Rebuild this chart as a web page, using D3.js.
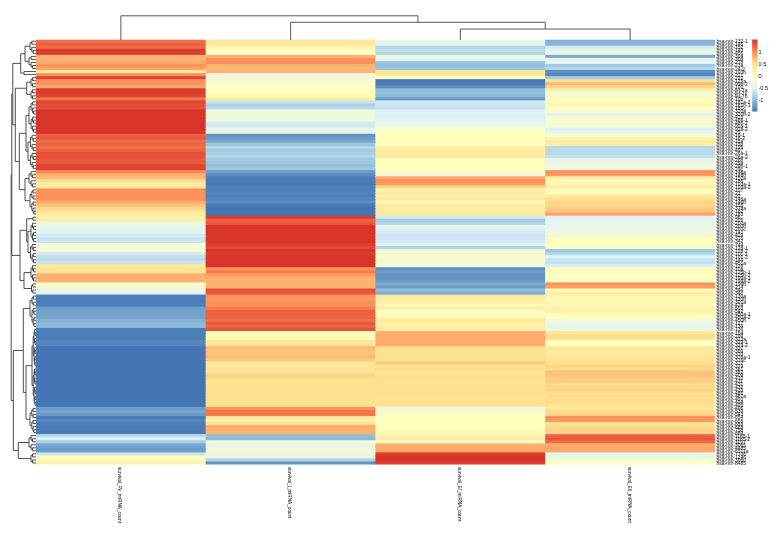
<!DOCTYPE html>
<html><head><meta charset="utf-8">
<style>html,body{margin:0;padding:0;background:#fff}svg{display:block;filter:blur(0.4px)}text{font-family:"Liberation Sans",Arial,sans-serif}</style>
<script src="https://cdn.jsdelivr.net/npm/d3@7"></script></head>
<body><svg id="c" width="780" height="538"></svg>
<script>
const columnLabels = ["survival_FV_miRNA_count","survival_I_miRNA_count","survival_EI_miRNA_count","survival_EII_miRNA_count"];
const seriesFV = [1.2,1.25,1.2,1.45,1.45,.8,.8,.85,1.0,.9,
.35,1.0,1.4,1.0,1.0,.85,1.45,1.45,1.4,1.15,
1.4,1.35,1.35,1.5,1.5,1.5,1.5,1.5,1.5,1.5,
1.5,1.25,1.3,1.2,1.25,1.2,1.25,1.35,1.35,1.3,
1.3,1.42,1.42,1.05,.8,.75,.5,.35,.35,1.0,
1.0,1.0,1.0,.85,.7,.6,.45,.35,.25,.3,
-.3,-.35,-.4,-.4,-.55,-.6,-.6,-.15,-.15,-.2,
-.55,-.65,-.7,-.6,.4,.45,.45,.8,.8,.8,
-.1,-.1,-.3,-.4,-1.4,-1.4,-1.4,-1.38,-1.2,-1.15,
-1.15,-1.15,-1.05,-1.0,-1.0,-1.4,-1.4,-1.4,-1.4,-1.35,
-1.35,-1.46,-1.46,-1.46,-1.46,-1.46,-1.46,-1.46,-1.46,-1.46,
-1.46,-1.46,-1.46,-1.46,-1.46,-1.46,-1.46,-1.46,-1.46,-1.46,
-1.46,-1.2,-1.15,-1.2,-1.4,-1.35,-1.4,-1.42,-1.42,-1.42,
-.7,-.5,-.8,-1.1,-1.2,-1.2,-.6,.05,.15,.2];
const seriesI = [.4,.4,.2,0,0,.8,1.0,1.0,.8,.75,
.8,-.2,-.2,-.2,0,0,.05,.05,.1,.3,
-.6,-.8,-.7,-.25,-.25,-.25,-.25,-.55,-.55,-.35,
-.3,-1.25,-1.2,-1.1,-.9,-.75,-.85,-.8,-.75,-.85,
-.9,-.95,-.9,-1.2,-1.3,-1.4,-1.4,-1.42,-1.38,-1.38,
-1.35,-1.4,-1.35,-1.3,-1.42,-1.46,-1.46,-1.46,1.45,1.25,
1.3,1.5,1.5,1.5,1.5,1.5,1.5,1.45,1.4,1.5,
1.45,1.5,1.5,1.5,1.5,1.0,1.1,.95,.8,.8,
.8,.8,1.35,1.3,1.0,.95,1.0,1.0,1.1,1.25,
1.25,1.25,1.2,1.3,1.25,1.35,.1,.1,.15,.4,
.45,.75,.7,.7,.75,.65,.45,.4,.45,.4,
.6,.55,.5,.5,.5,.5,.5,.5,.5,.5,
.5,1.0,1.15,1.15,.4,.25,.5,.85,.8,.8,
-.95,-1.0,-.1,-.45,-.2,-.2,-.25,-.25,-.8,-1.25];
const seriesEI = [-.3,-.45,-.75,-.65,-.75,-.3,-.4,-.9,-.95,-.9,
.45,.4,.05,-1.45,-1.4,-1.3,-.95,-.95,-1.0,-1.2,
-.55,-.6,-.65,-.5,-.4,-.5,-.45,-.35,-.3,-.05,
0,.05,.05,.1,0,.3,.35,.35,.4,.05,
0,.05,.05,-.1,-.15,.85,1.0,.95,.6,.25,
.35,.25,.4,.1,.35,.3,.35,.35,-.55,-.85,
-.75,-.3,-.5,-.55,-.6,-.6,-.55,-.5,-.75,-.2,
-.2,0,-.15,-.15,-.15,-1.3,-1.2,-1.25,-1.25,-1.2,
-1.1,-1.2,-.95,-1.1,.4,.3,.25,.15,.3,0,
.05,.15,.35,.3,.3,.3,.8,.85,.85,.85,
.85,.5,.5,.5,.5,.5,.65,.5,.55,.5,
.5,.52,.5,.48,.5,.5,.52,.5,.48,.5,
.5,-.15,-.15,.1,.05,.05,0,.05,.1,.15,
.2,.3,.05,.8,.85,.85,1.45,1.5,1.5,1.45];
const seriesEII = [-1.05,-1.0,-.55,-.35,-.3,-1.1,-.35,-.4,-.85,-.75,
-1.3,-1.35,-.85,.5,.75,.6,.3,-.1,-.15,.1,
.1,.15,0,-.1,-.4,-.15,-.1,-.15,-.1,-.5,
-.35,-.1,.2,.3,.3,-.7,-.7,-.7,-.65,-.3,
-.3,-.25,-.25,1.0,.95,.3,.1,.15,.3,.1,
.05,.4,.5,.6,.55,.65,.7,.9,-.45,-.4,
-.35,-.35,-.3,-.25,-.2,0,.05,0,-.1,-.9,
-.75,-.45,-.6,-.65,-.5,.1,.1,0,0,.05,
1.0,.9,.1,.3,.2,.1,.15,.15,.25,.2,
.1,.05,-.2,-.3,-.35,-.25,.4,.55,.5,0,
.05,.4,.35,.4,.45,.45,.5,.6,.55,.7,
.7,.65,.65,.55,.6,.6,.5,.55,.5,.55,
.5,.4,.55,.6,1.0,.95,.5,.55,.6,.6,
1.25,1.3,1.2,.85,.85,.85,-.4,-.35,-.1,0];
const rowLabels = ["132-1","145","152","143","455","30a","30d","27b","23a","24-2",
"193b","221","222","125a","99b-2","100","let-7a","let-7c","let-7b","10b",
"181a-2","181b-1","181c","320a","320b-2","423","486-1","486-2","92a-1","92a-2",
"25","16-1","16-2","15a","15b","195","497","26a-1","26a-2","26b",
"29a","29b-1","29c","148a","148b","152a","186","103a-1","103a-2","107",
"21","22","146a","146b","155","378a","182","183","96","205",
"200a","200b","200c","141","429","375","342","744","128-1","128-2",
"101-1","101-2","144","451a","126","10a","125b-1","125b-2","199a-1","199a-2",
"199b","214","34a","34c","130a","130b","301a","424","503","542",
"450a-1","450a-2","450b","127","134","136","154","299","323a","329-1",
"329-2","337","369","370","376a-1","376c","377","379","381","382",
"409","410","411","431","432","433","485","487a","493","494",
"495","496","539","543","654","655","656","668","758","889",
"1185-1","1185-2","1197","3065","4485","6511a","7706","1246","3960","8485"].map(s => "hsa-mir-" + s);
const legendTicks = [1, 0.5, 0, -0.5, -1];
const legendRange = [-1.46, 1.52];
const colourStops = ["#4575B4","#91BFDB","#E0F3F8","#FFFFBF","#FEE090","#FC8D59","#D73027"];
// merge trees: [height, child, child]; [height, n] is a tight cluster of n rows
const columnTree = [28, [0,1], [20.5, [0,1], [12.7, [0,1], [0,1]]]];
const rowTree = [24.8,
  [24.2,
    [23.2,
      [15.3,
        [11, [6,5], [7,5]],
        [12, [1,1], [1,1]]],
      [20.7,
        [9.3, [5,4], [5,4]],
        [16.7,
          [10, [7,11], [8,12]],
          [11, [7,6], [6,9]]]]],
    [16,
      [9.3, [3,2], [8, [5,7], [5.5,7]]],
      [12, [5,6], [4.5,4]]]],
  [22.7,
    [12.7,
      [6, [4,4], [4,7]],
      [10, [4,26], [6,9]]],
    [17.7, [10, [7,6]], [10, [5,4]]]]];

const svg = d3.select("#c");
const matrix = [seriesFV, seriesI, seriesEI, seriesEII];
const rows = d3.range(rowLabels.length);
const x = d3.scaleBand().domain(d3.range(columnLabels.length)).range([36, 715]);
const y = d3.scaleBand().domain(rows).range([39.7, 464.5]);
const colour = d3.scaleLinear()
  .domain(colourStops.map((_, i) => legendRange[0] + i * (legendRange[1] - legendRange[0]) / (colourStops.length - 1)))
  .range(colourStops).clamp(true);

svg.append("g").selectAll("g").data(matrix).join("g").each(function (col, c) {
  d3.select(this).selectAll("rect").data(col).join("rect")
    .attr("x", x(c)).attr("width", x.bandwidth() + (c < 3 ? 0.5 : 0))
    .attr("y", (d, r) => y(r)).attr("height", (d, r) => y.bandwidth() + (r < rows.length - 1 ? 1.5 : 0))
    .attr("fill", d => colour(d));
});

// expand a tree spec into a d3.hierarchy
function expand(spec) {
  if (spec.length === 2 && typeof spec[1] === "number") {
    const [h, n] = spec;
    if (n === 1) return { h: 0 };
    const k = Math.floor(n / 2);
    const next = h * 0.7;
    return { h, children: [expand([next, k]), expand([next, n - k])] };
  }
  if (spec.length === 2) return expand(spec[1]);
  return { h: spec[0], children: [expand(spec[1]), expand(spec[2])] };
}
function placeAndDraw(spec, leafPos, heightPos, horizontal, stroke) {
  const root = d3.hierarchy(expand(spec));
  root.leaves().forEach((l, i) => l.p = leafPos(i));
  root.eachAfter(n => { if (n.children) n.p = (n.children[0].p + n.children[n.children.length - 1].p) / 2; });
  const pts = (a, h) => horizontal ? [a, heightPos(h)] : [heightPos(h), a];
  const line = d3.line();
  const paths = root.descendants().filter(n => n.children).map(n => {
    const [a, b] = n.children;
    return line([pts(a.p, a.data.h), pts(a.p, n.data.h), pts(b.p, n.data.h), pts(b.p, b.data.h)]);
  });
  svg.append("g").selectAll("path").data(paths).join("path")
    .attr("d", d => d).attr("fill", "none").attr("stroke", stroke).attr("stroke-width", 0.9);
}
const hTop = d3.scaleLinear().domain([0, 28]).range([40, 15.8]);
placeAndDraw(columnTree, i => x(i) + x.bandwidth() / 2, hTop, true, "#444");
const hLeft = d3.scaleLinear().domain([0, 24.8]).range([36, 11.2]);
placeAndDraw(rowTree, i => y(i) + y.bandwidth() / 2, hLeft, false, "#3a3a3a");

// row labels
svg.append("g").selectAll("text").data(rowLabels).join("text")
  .attr("x", 716.6).attr("y", (d, i) => y(i) + y.bandwidth() / 2)
  .attr("dominant-baseline", "central").attr("font-size", 5).attr("fill", "#111").text(d => d);
// column labels
svg.append("g").selectAll("text").data(columnLabels).join("text")
  .attr("transform", (d, i) => `translate(${x(i) + x.bandwidth() / 2 - 1},467) rotate(90)`)
  .attr("dominant-baseline", "central").attr("font-size", 4.7).attr("fill", "#000").text(d => d);
// legend
const lg = d3.scaleLinear().domain(legendRange).range([111, 39.5]);
const stripes = d3.range(100).map(i => legendRange[0] + (i + 0.5) * (legendRange[1] - legendRange[0]) / 100);
const stripeH = (lg.range()[0] - lg.range()[1]) / 100;
svg.append("g").selectAll("rect").data(stripes).join("rect")
  .attr("x", 752.3).attr("width", 5).attr("y", d => lg(d) - stripeH / 2).attr("height", stripeH + 0.6)
  .attr("fill", d => colour(d));
svg.append("g").selectAll("text").data(legendTicks).join("text")
  .attr("x", 758.5).attr("y", d => lg(d)).attr("dominant-baseline", "central")
  .attr("font-size", 5.6).attr("fill", "#111").text(d => d);
</script></body></html>
